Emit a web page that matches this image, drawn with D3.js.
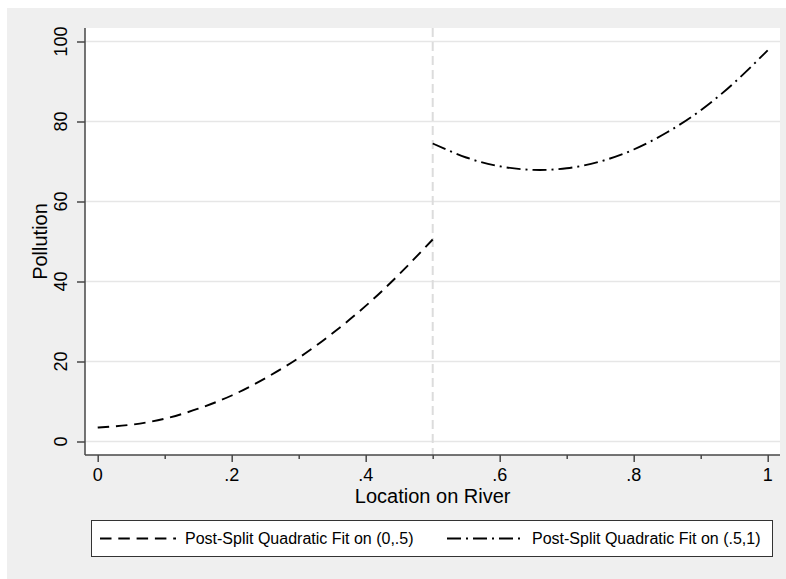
<!DOCTYPE html>
<html>
<head>
<meta charset="utf-8">
<script src="https://cdn.jsdelivr.net/npm/d3@7"></script>
<style>
  html, body { margin: 0; padding: 0; background: #ffffff; }
  svg { display: block; }
  text { font-family: "Liberation Sans", Arial, Helvetica, sans-serif; fill: #000; }
</style>
</head>
<body>
<svg id="chart" width="786" height="579"></svg>
<script>
// Location on river (x) and fitted pollution (y) for the two segments
const leftX  = [0, 0.05, 0.1, 0.15, 0.2, 0.25, 0.3, 0.35, 0.4, 0.45, 0.5];
const leftY  = [3.5, 4.2, 5.7, 8.2, 11.5, 15.8, 20.9, 27.0, 33.9, 41.8, 50.5];
const rightX = [0.5, 0.55, 0.6, 0.65, 0.7, 0.75, 0.8, 0.85, 0.9, 0.95, 1.0];
const rightY = [74.5, 71.0, 68.8, 67.9, 68.3, 70.0, 73.0, 77.3, 82.8, 89.7, 97.8];

const splitPoint = 0.5;
const xTicks = [0, 0.2, 0.4, 0.6, 0.8, 1];
const xMinorTicks = [0.1, 0.3, 0.5, 0.7, 0.9];
const xTickLabels = ["0", ".2", ".4", ".6", ".8", "1"];
const yTicks = [0, 20, 40, 60, 80, 100];
const legendLabels = ["Post-Split Quadratic Fit on (0,.5)", "Post-Split Quadratic Fit on (.5,1)"];
const xTitle = "Location on River";
const yTitle = "Pollution";

const svg = d3.select("#chart");

// outer graph region
svg.append("rect").attr("x", 7).attr("y", 8).attr("width", 779).attr("height", 571)
  .attr("fill", "#efefef");

// plot region
const plot = { left: 85, right: 780, top: 28, bottom: 455 };
svg.append("rect").attr("x", plot.left).attr("y", plot.top)
  .attr("width", plot.right - plot.left).attr("height", plot.bottom - plot.top)
  .attr("fill", "#ffffff");

const x = d3.scaleLinear().domain([0, 1]).range([97.7, 767.7]);
const y = d3.scaleLinear().domain([0, 100]).range([441.5, 41.5]);

// horizontal grid lines
svg.append("g").selectAll("line").data(yTicks).join("line")
  .attr("x1", plot.left).attr("x2", plot.right)
  .attr("y1", d => y(d)).attr("y2", d => y(d))
  .attr("stroke", "#e6e6e6").attr("stroke-width", 1.5);

// split marker
svg.append("line")
  .attr("x1", x(splitPoint)).attr("x2", x(splitPoint))
  .attr("y1", plot.top).attr("y2", plot.bottom)
  .attr("stroke", "#dcdcdc").attr("stroke-width", 2)
  .attr("stroke-dasharray", "9,5");

// fitted curves
const line = d3.line().x(d => x(d[0])).y(d => y(d[1])).curve(d3.curveNatural);
const leftPts = leftX.map((v, i) => [v, leftY[i]]);
const rightPts = rightX.map((v, i) => [v, rightY[i]]);
const dashA = "11.5,6.8";
const dashB = "14,5,2,5";

svg.append("path").datum(leftPts).attr("d", line)
  .attr("fill", "none").attr("stroke", "#000").attr("stroke-width", 1.9)
  .attr("stroke-dasharray", dashA);
svg.append("path").datum(rightPts).attr("d", line)
  .attr("fill", "none").attr("stroke", "#000").attr("stroke-width", 1.9)
  .attr("stroke-dasharray", dashB);

// axes
const axisColor = "#474747";
const yAxis = svg.append("g").attr("transform", `translate(${plot.left},0)`)
  .call(d3.axisLeft(y).tickValues(yTicks).tickSize(8).tickFormat(""));
yAxis.select(".domain").attr("d", `M0,${plot.top}V${plot.bottom}`);
yAxis.selectAll(".domain, .tick line").attr("stroke", axisColor).attr("stroke-width", 1.5);

const xAxis = svg.append("g").attr("transform", `translate(0,${plot.bottom})`)
  .call(d3.axisBottom(x).tickValues(xTicks).tickSize(7).tickFormat(""));
xAxis.select(".domain").attr("d", `M${plot.left},0H${plot.right}`);
xAxis.selectAll(".domain, .tick line").attr("stroke", axisColor).attr("stroke-width", 1.5);

const xMinor = svg.append("g").attr("transform", `translate(0,${plot.bottom})`)
  .call(d3.axisBottom(x).tickValues(xMinorTicks).tickSize(4).tickFormat(""));
xMinor.select(".domain").remove();
xMinor.selectAll(".tick line").attr("stroke", axisColor).attr("stroke-width", 1.5);

// tick labels
svg.append("g").selectAll("text").data(xTicks).join("text")
  .attr("x", d => x(d)).attr("y", 481)
  .attr("text-anchor", "middle").attr("font-size", 18)
  .text((d, i) => xTickLabels[i]);

svg.append("g").selectAll("text").data(yTicks).join("text")
  .attr("transform", d => `translate(67,${y(d)}) rotate(-90)`)
  .attr("text-anchor", "middle").attr("font-size", 18)
  .text(d => d);

// axis titles
svg.append("text").attr("x", x(0.5)).attr("y", 503)
  .attr("text-anchor", "middle").attr("font-size", 20).text(xTitle);
svg.append("text").attr("transform", `translate(47,${y(50)}) rotate(-90)`)
  .attr("text-anchor", "middle").attr("font-size", 20).text(yTitle);

// legend
const lg = svg.append("g");
lg.append("rect").attr("x", 91.5).attr("y", 520.5).attr("width", 681).attr("height", 36)
  .attr("fill", "#ffffff").attr("stroke", "#333").attr("stroke-width", 1);
const keys = [
  { x0: 100, x1: 176, tx: 185, dash: dashA },
  { x0: 447, x1: 523, tx: 532, dash: dashB }
];
keys.forEach((k, i) => {
  lg.append("line").attr("x1", k.x0).attr("x2", k.x1).attr("y1", 538.5).attr("y2", 538.5)
    .attr("stroke", "#000").attr("stroke-width", 1.9).attr("stroke-dasharray", k.dash);
  lg.append("text").attr("x", k.tx).attr("y", 544).attr("font-size", 16).text(legendLabels[i]);
});
</script>
</body>
</html>
